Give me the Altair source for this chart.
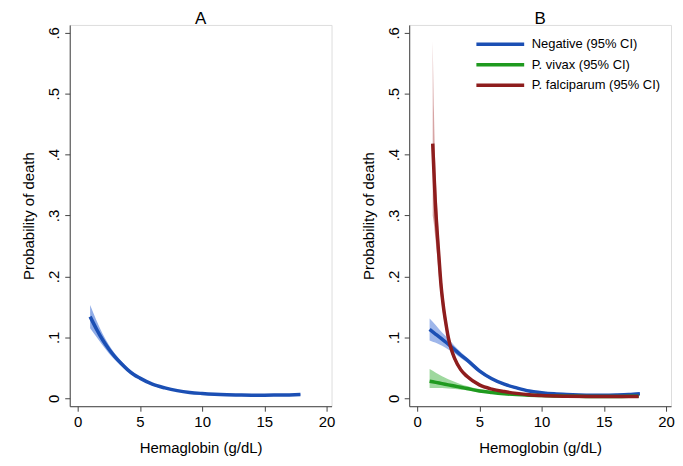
import altair as alt
import pandas as pd

FONT = "Liberation Sans"

# ---------------- Panel A (all children) ----------------
a_x  = [1.0, 1.5, 2, 2.5, 3, 3.5, 4, 4.5, 5, 6, 7, 8, 9, 10, 11, 12, 13, 14, 15, 16, 17, 17.9]
a_y  = [0.134, 0.114, 0.096, 0.081, 0.068, 0.057, 0.047, 0.039, 0.033, 0.023, 0.017, 0.0125,
        0.0095, 0.0078, 0.0066, 0.0058, 0.0053, 0.005, 0.005, 0.0052, 0.0055, 0.006]
a_lo = [0.115, 0.101, 0.087, 0.074, 0.063, 0.053, 0.044, 0.037, 0.031, 0.021, 0.0155, 0.0113,
        0.0085, 0.0069, 0.0058, 0.005, 0.0045, 0.0041, 0.004, 0.0041, 0.0043, 0.0046]
a_hi = [0.153, 0.128, 0.106, 0.088, 0.073, 0.061, 0.050, 0.042, 0.035, 0.025, 0.0185, 0.0137,
        0.0105, 0.0087, 0.0074, 0.0066, 0.0061, 0.0059, 0.006, 0.0063, 0.0067, 0.0075]

# ---------------- Panel B (by infection) ----------------
neg_x  = [1, 1.5, 2, 2.5, 3, 3.5, 4, 5, 6, 7, 8, 9, 10, 11, 12, 13, 14, 15, 16, 17, 17.9]
neg_y  = [0.113, 0.105, 0.097, 0.089, 0.080, 0.071, 0.063, 0.045, 0.032, 0.023, 0.017, 0.012,
          0.0092, 0.0072, 0.006, 0.0052, 0.0048, 0.0048, 0.0052, 0.006, 0.0075]
neg_lo = [0.095, 0.091, 0.086, 0.080, 0.074, 0.066, 0.059, 0.042, 0.030, 0.021, 0.0155, 0.011,
          0.0083, 0.0064, 0.0053, 0.0045, 0.0041, 0.0041, 0.0044, 0.005, 0.006]
neg_hi = [0.131, 0.120, 0.108, 0.098, 0.086, 0.076, 0.067, 0.048, 0.034, 0.025, 0.0185, 0.013,
          0.0101, 0.008, 0.0067, 0.0059, 0.0055, 0.0055, 0.006, 0.007, 0.009]

viv_x  = [1, 1.5, 2, 2.5, 3, 3.5, 4, 5, 6, 7, 8, 9, 10, 11, 12, 13, 14, 15, 16, 17, 17.8]
viv_y  = [0.028, 0.026, 0.024, 0.022, 0.020, 0.018, 0.016, 0.012, 0.0095, 0.0075, 0.006, 0.005,
          0.0043, 0.0038, 0.0034, 0.0031, 0.003, 0.003, 0.003, 0.0031, 0.0033]
viv_lo = [0.017, 0.017, 0.017, 0.016, 0.015, 0.014, 0.013, 0.010, 0.0078, 0.0062, 0.005, 0.0042,
          0.0036, 0.0031, 0.0027, 0.0024, 0.0022, 0.0021, 0.002, 0.002, 0.002]
viv_hi = [0.048, 0.042, 0.036, 0.031, 0.027, 0.023, 0.020, 0.015, 0.012, 0.0095, 0.0077, 0.0065,
          0.0055, 0.0048, 0.0043, 0.004, 0.0039, 0.004, 0.0042, 0.0046, 0.0052]

fal_x  = [1.25, 1.35, 1.45, 1.6, 1.75, 1.9, 2.1, 2.3, 2.5, 2.75, 3, 3.5, 4, 5, 6, 7, 8, 9, 10,
          12, 14, 16, 17.8]
fal_y  = [0.418, 0.37, 0.325, 0.275, 0.232, 0.19, 0.152, 0.124, 0.100, 0.080, 0.066, 0.047, 0.036,
          0.022, 0.015, 0.011, 0.008, 0.0058, 0.0045, 0.0033, 0.0028, 0.0027, 0.0028]
fal_lo = [0.30, 0.285, 0.265, 0.235, 0.2, 0.168, 0.136, 0.112, 0.091, 0.073, 0.061, 0.043, 0.033,
          0.020, 0.0135, 0.010, 0.0071, 0.005, 0.0038, 0.0027, 0.0022, 0.0021, 0.0021]
fal_hi = [0.586, 0.47, 0.39, 0.32, 0.265, 0.215, 0.17, 0.137, 0.11, 0.087, 0.071, 0.051, 0.039,
          0.024, 0.0165, 0.012, 0.0089, 0.0066, 0.0052, 0.0039, 0.0034, 0.0034, 0.0037]

series_names = ["Negative (95% CI)", "P. vivax (95% CI)", "P. falciparum (95% CI)"]
band_names = ["Negative band", "P. vivax band", "P. falciparum band"]
line_colors = ["#1b4fb4", "#1f9a1f", "#8e1d1d"]
band_colors = ["#7d9ee3", "#7ecb7e", "#c98585"]

y_ticks = [0, 0.1, 0.2, 0.3, 0.4, 0.5, 0.6]
x_ticks = [0, 5, 10, 15, 20]

df_a = pd.DataFrame({"x": a_x, "y": a_y, "lo": a_lo, "hi": a_hi})

frames = []
for i, (xs, ys, los, his) in enumerate([
    (neg_x, neg_y, neg_lo, neg_hi),
    (viv_x, viv_y, viv_lo, viv_hi),
    (fal_x, fal_y, fal_lo, fal_hi),
]):
    frames.append(pd.DataFrame({"x": xs, "y": ys, "lo": los, "hi": his,
                                "series": series_names[i], "band": band_names[i]}))
df_b = pd.concat(frames, ignore_index=True)

W, H = 263, 383
FS = 15
x_scale = alt.Scale(domain=[-0.64, 20.4], nice=False, zero=False)
y_scale = alt.Scale(domain=[-0.0131, 0.613], nice=False, zero=False)


def x_axis(title):
    return alt.Axis(values=x_ticks, title=title, grid=False, tickSize=5, labelPadding=3,
                    titlePadding=11, labelFontSize=FS, titleFontSize=FS,
                    titleFontWeight="normal", domainColor="#444", tickColor="#444",
                    labelColor="#000", titleColor="#000", labelFont=FONT, titleFont=FONT)


y_axis = alt.Axis(values=y_ticks, title="Probability of death", grid=False, tickSize=5,
                  labelPadding=3, titlePadding=10, labelFontSize=FS, titleFontSize=FS,
                  titleFontWeight="normal", labelAngle=-90, labelAlign="center",
                  labelBaseline="bottom",
                  labelExpr="datum.value == 0 ? '0' : substring(format(datum.value, '.1f'), 1)",
                  domainColor="#444", tickColor="#444", labelColor="#000", titleColor="#000",
                  labelFont=FONT, titleFont=FONT)

# Panel A
base_a = alt.Chart(df_a)
band_a = base_a.mark_area(color=band_colors[0], opacity=0.85, interpolate="monotone").encode(
    x=alt.X("x:Q", scale=x_scale, axis=x_axis("Hemaglobin (g/dL)")),
    y=alt.Y("lo:Q", scale=y_scale, axis=y_axis),
    y2="hi:Q",
)
line_a = base_a.mark_line(color=line_colors[0], strokeWidth=3.5, interpolate="monotone").encode(
    x=alt.X("x:Q", scale=x_scale),
    y=alt.Y("y:Q", scale=y_scale),
)
panel_a = alt.layer(band_a, line_a).properties(
    width=W, height=H,
    title=alt.TitleParams("A", fontSize=17, fontWeight="normal", font=FONT, offset=-3, anchor="middle"),
)

# Panel B
base_b = alt.Chart(df_b)
band_scale = alt.Scale(domain=band_names, range=band_colors)
line_scale = alt.Scale(domain=series_names, range=line_colors)

band_b = base_b.mark_area(opacity=0.75, interpolate="monotone").encode(
    x=alt.X("x:Q", scale=x_scale, axis=x_axis("Hemoglobin (g/dL)")),
    y=alt.Y("lo:Q", scale=y_scale, axis=y_axis),
    y2="hi:Q",
    fill=alt.Fill("band:N", scale=band_scale, legend=None),
)
line_b = base_b.mark_line(strokeWidth=3.5, interpolate="monotone").encode(
    x=alt.X("x:Q", scale=x_scale),
    y=alt.Y("y:Q", scale=y_scale),
    color=alt.Color(
        "series:N", scale=line_scale,
        legend=alt.Legend(
            title=None, orient="none", legendX=426, legendY=13,
            symbolType="M-12,0H12", symbolSize=16, symbolStrokeWidth=3.5,
            labelFontSize=13, labelFont=FONT, labelColor="#000", labelOffset=25,
            rowPadding=5.5, padding=0,
        ),
    ),
)
panel_b = alt.layer(band_b, line_b).properties(
    width=W, height=H,
    title=alt.TitleParams("B", fontSize=17, fontWeight="normal", font=FONT, offset=-3, anchor="middle"),
)

chart = alt.hconcat(panel_a, panel_b, spacing=25).properties(
    padding={"left": 13, "top": 0, "right": 0, "bottom": 0}
).configure_view(stroke=None).configure(font=FONT, background="white")

chart.save("out.html", embed_options={"renderer": "svg", "actions": False})
